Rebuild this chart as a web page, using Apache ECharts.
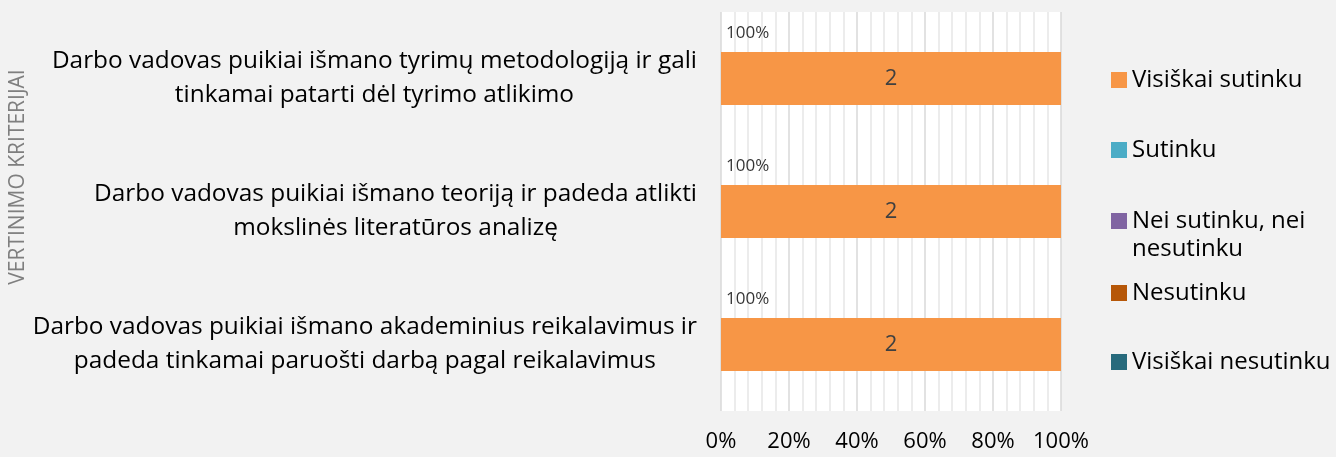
<!DOCTYPE html>
<html>
<head>
<meta charset="utf-8">
<script src="https://cdn.jsdelivr.net/npm/echarts@6/dist/echarts.min.js"></script>
<style>
html,body{margin:0;padding:0;background:#f2f2f2;}
#chart{width:1336px;height:457px;}
</style>
</head>
<body>
<div id="chart"></div>
<script>
// Categories (top to bottom), line breaks as in the reference
const categories = [
  "Darbo vadovas puikiai išmano tyrimų metodologiją ir gali\ntinkamai patarti dėl tyrimo atlikimo",
  "Darbo vadovas puikiai išmano teoriją ir padeda atlikti\nmokslinės literatūros analizę",
  "Darbo vadovas puikiai išmano akademinius reikalavimus ir\npadeda tinkamai paruošti darbą pagal reikalavimus"
];
const seriesNames = ["Visiškai sutinku", "Sutinku", "Nei sutinku, nei nesutinku", "Nesutinku", "Visiškai nesutinku"];
const visiskaiSutinku = [2, 2, 2];
const sutinku = [0, 0, 0];
const neiSutinkuNei = [0, 0, 0];
const nesutinku = [0, 0, 0];
const visiskaiNesutinku = [0, 0, 0];
const xTicks = [0, 20, 40, 60, 80, 100];
const axisTitle = "VERTINIMO KRITERIJAI";

const colors = ["#f79646", "#4bacc6", "#8064a2", "#b65708", "#276a7c"];
const FONT = "Open Sans";
const allSeries = [visiskaiSutinku, sutinku, neiSutinkuNei, nesutinku, visiskaiNesutinku];
const totals = categories.map((c, i) => allSeries.reduce((s, a) => s + a[i], 0));
const pct = (arr) => arr.map((v, i) => totals[i] ? v / totals[i] * 100 : 0);

const barSeries = allSeries.map((arr, k) => ({
  name: seriesNames[k],
  type: 'bar',
  stack: 'total',
  barWidth: '40%',
  itemStyle: { color: colors[k] },
  label: {
    show: true,
    position: 'inside',
    color: '#404040',
    fontFamily: FONT,
    fontSize: 22,
    formatter: p => arr[p.dataIndex] > 0 ? String(arr[p.dataIndex]) : ''
  },
  data: pct(arr)
}));

// Share label of the top category shown above each bar
const shareSeries = {
  type: 'scatter',
  symbolSize: 0,
  silent: true,
  label: {
    show: true,
    position: 'right',
    offset: [0, -45],
    color: '#000',
    fontFamily: FONT,
    fontSize: 17,
    formatter: p => Math.round(pct(visiskaiSutinku)[p.dataIndex]) + '%'
  },
  data: categories.map((c, i) => [0, i])
};

const legendCenters = [76, 146, 217, 289, 358];
const legends = seriesNames.map((n, k) => ({
  data: [{ name: n, icon: 'rect' }],
  left: 1111,
  top: legendCenters[k] - 8,
  padding: 0,
  itemWidth: 16,
  itemHeight: 16,
  itemGap: 0,
  selectedMode: false,
  formatter: name => k === 2 ? 'Nei sutinku, nei' : name,
  textStyle: { fontFamily: FONT, fontSize: 24, color: '#000' }
}));

const chart = echarts.init(document.getElementById('chart'));
chart.setOption({
  backgroundColor: '#f2f2f2',
  animation: false,
  grid: { left: 721, right: 275, top: 12, bottom: 46, show: true, backgroundColor: '#ffffff', borderWidth: 0 },
  legend: legends,
  xAxis: {
    type: 'value',
    min: 0, max: 100, interval: 20,
    axisLine: { show: false },
    axisTick: { show: false },
    axisLabel: { margin: 20, fontFamily: FONT, fontSize: 22, color: '#000',
      formatter: v => xTicks.includes(v) ? v + '%' : '' },
    splitLine: { show: true, lineStyle: { color: '#d9d9d9', width: 1.5 } },
    minorTick: { show: false, splitNumber: 5 },
    minorSplitLine: { show: true, lineStyle: { color: '#ececec', width: 2 } }
  },
  yAxis: {
    type: 'category',
    inverse: true,
    data: categories,
    axisLine: { show: false },
    axisTick: { show: false },
    axisLabel: {
      margin: 24,
      align: 'right',
      formatter: v => v.split('\n').map(l => '{c|' + l + '}').join('\n'),
      rich: { c: { align: 'center', fontFamily: FONT, fontSize: 24.4, lineHeight: 34, color: '#000' } }
    }
  },
  graphic: [
    { type: 'text', left: 1132, top: 237,
      style: { text: 'nesutinku', font: '24px "Open Sans"', fill: '#000' } },
    { type: 'text', x: 18, y: 177, rotation: Math.PI / 2, originX: 0, originY: 0,
      style: { text: axisTitle, font: '21px "Open Sans"', fill: '#7f7f7f', align: 'center', verticalAlign: 'middle' } }
  ],
  series: [...barSeries, shareSeries]
});
</script>
</body>
</html>
